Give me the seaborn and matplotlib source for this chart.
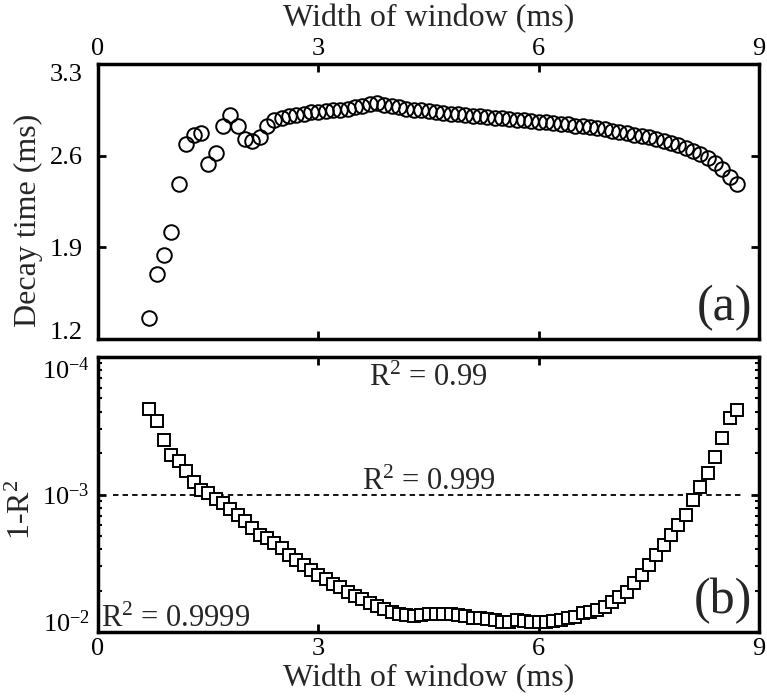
import numpy as np
import pandas as pd
import matplotlib
matplotlib.use("Agg")
import matplotlib.pyplot as plt
import seaborn as sns
from matplotlib.ticker import FixedLocator, FixedFormatter, NullFormatter

# ---------------- data ----------------
width_ms = [0.7, 0.8, 0.9, 1.0, 1.1, 1.2, 1.3, 1.4, 1.5, 1.6,
            1.7, 1.8, 1.9, 2.0, 2.1, 2.2, 2.3, 2.4, 2.5, 2.6,
            2.7, 2.8, 2.9, 3.0, 3.1, 3.2, 3.3, 3.4, 3.5, 3.6,
            3.7, 3.8, 3.9, 4.0, 4.1, 4.2, 4.3, 4.4, 4.5, 4.6,
            4.7, 4.8, 4.9, 5.0, 5.1, 5.2, 5.3, 5.4, 5.5, 5.6,
            5.7, 5.8, 5.9, 6.0, 6.1, 6.2, 6.3, 6.4, 6.5, 6.6,
            6.7, 6.8, 6.9, 7.0, 7.1, 7.2, 7.3, 7.4, 7.5, 7.6,
            7.7, 7.8, 7.9, 8.0, 8.1, 8.2, 8.3, 8.4, 8.5, 8.6, 8.7]

decay_time_ms = [1.36, 1.70, 1.84, 2.02, 2.38, 2.69, 2.76, 2.77, 2.54, 2.62,
                 2.83, 2.91, 2.83, 2.73, 2.71, 2.745, 2.83, 2.87, 2.885, 2.90,
                 2.91, 2.92, 2.93, 2.935, 2.94, 2.945, 2.95, 2.96, 2.97, 2.98,
                 2.995, 3.00, 2.99, 2.98, 2.97, 2.96, 2.95, 2.945, 2.94, 2.93,
                 2.925, 2.92, 2.915, 2.91, 2.905, 2.90, 2.895, 2.89, 2.885, 2.88,
                 2.875, 2.87, 2.865, 2.86, 2.855, 2.85, 2.845, 2.84, 2.83, 2.825,
                 2.82, 2.81, 2.80, 2.79, 2.78, 2.77, 2.76, 2.75, 2.74, 2.725,
                 2.71, 2.695, 2.68, 2.66, 2.635, 2.61, 2.58, 2.545, 2.50, 2.44, 2.38]

# 1 - R^2 as read on the labelled axis, in units of 1e-4
one_minus_r2_e4 = [2.40, 2.92, 4.02, 5.16, 5.68, 6.71, 8.07, 9.27, 9.77, 10.84,
                   11.48, 12.82, 14.09, 15.60, 17.62, 19.72, 20.84, 22.39, 24.55, 27.54,
                   29.92, 32.58, 35.48, 38.46, 41.40, 44.67, 47.32, 50.93, 54.70, 57.81,
                   61.24, 64.71, 68.39, 71.12, 74.30, 75.16, 75.86, 75.51, 74.47, 73.79,
                   73.45, 73.79, 74.99, 76.74, 78.52, 79.43, 80.35, 82.22, 84.14, 84.14,
                   82.22, 82.79, 84.14, 85.11, 84.14, 83.18, 81.85, 79.43, 77.27, 73.28,
                   71.12, 69.18, 65.46, 60.26, 55.34, 50.93, 44.26, 38.46, 32.58, 27.54,
                   23.28, 19.72, 16.67, 14.09, 10.96, 8.77, 7.01, 5.31, 3.90, 2.79, 2.43]

x_ticks = [0, 3, 6, 9]
decay_ticks = [1.2, 1.9, 2.6, 3.3]
decay_tick_labels = ["1.2", "1.9", "2.6", "3.3"]
r2_ticks = [1e-4, 1e-3, 1e-2]
r2_tick_labels = ["10$^{-4}$", "10$^{-3}$", "10$^{-2}$"]
r2_threshold = 1e-3

df_a = pd.DataFrame({"width": width_ms, "tau": decay_time_ms})
df_b = pd.DataFrame({"width": width_ms, "r": np.array(one_minus_r2_e4) * 1e-4})

# ---------------- style ----------------
sns.set_theme(style="white")
plt.rcParams["font.family"] = ["Liberation Serif", "DejaVu Serif"]
plt.rcParams["mathtext.fontset"] = "custom"
plt.rcParams["mathtext.rm"] = "Liberation Serif"
plt.rcParams["mathtext.it"] = "Liberation Serif:italic"
plt.rcParams["mathtext.default"] = "regular"

fig = plt.figure(figsize=(7.67, 7.0), dpi=100)
ax1 = fig.add_axes([0.1278, 0.5157, 0.8618, 0.3929])
ax2 = fig.add_axes([0.1278, 0.0971, 0.8618, 0.3929])

for ax in (ax1, ax2):
    for s in ax.spines.values():
        s.set_visible(True)
        s.set_linewidth(2.5)
        s.set_color("black")
    ax.set_facecolor("white")

# ---------------- panel (a) ----------------
sns.lineplot(data=df_a, x="width", y="tau", ax=ax1, linestyle="none",
             marker="o", markersize=10.5, markerfacecolor="none",
             markeredgecolor="black", markeredgewidth=1.4, color="black")
ax1.set_xlim(0, 9)
ax1.set_ylim(1.2, 3.3)
ax1.set_xticks(x_ticks)
ax1.set_yticks(decay_ticks)
ax1.set_yticklabels(decay_tick_labels)
ax1.tick_params(axis="both", which="major", direction="in", length=6, width=2,
                top=True, bottom=True, left=True, right=True,
                labeltop=True, labelbottom=False, labelsize=19, colors="black")
ax1.tick_params(axis="x", pad=3)
ax1.tick_params(axis="y", pad=11)
ax1.xaxis.set_label_position("top")
ax1.set_xlabel("Width of window (ms)", fontsize=23)
ax1.xaxis.label.set_va("center")
ax1.xaxis.set_label_coords(0.5, 1.166)
ax1.set_ylabel("Decay time (ms)", fontsize=23, va="center")
ax1.yaxis.set_label_coords(-0.105, 0.43)
ax1.text(0.99, 0.03, "(a)", transform=ax1.transAxes, ha="right", va="bottom",
         fontsize=36)

# pull the end labels inward like the reference
yt1 = ax1.yaxis.get_major_ticks()
yt1[0].label1.set_va("baseline")
yt1[-1].label1.set_va("top")

# ---------------- panel (b) ----------------
ax2.set_yscale("log")
ax2.set_xlim(0, 9)
ax2.set_ylim(1e-2, 1e-4)
ax2.plot([0.2, 8.8], [r2_threshold, r2_threshold], linestyle=(0, (3, 2.3)),
         color="black", linewidth=1.3, zorder=1)
sns.lineplot(data=df_b, x="width", y="r", ax=ax2, linestyle="none",
             marker="s", markersize=9, markerfacecolor="white",
             markeredgecolor="black", markeredgewidth=1.4, color="black",
             zorder=3)
ax2.set_xticks(x_ticks)
ax2.yaxis.set_major_locator(FixedLocator(r2_ticks))
ax2.yaxis.set_major_formatter(FixedFormatter(r2_tick_labels))
minor = [1e-3 / k for k in range(2, 10)] + [1e-2 / k for k in range(2, 10)]
ax2.yaxis.set_minor_locator(FixedLocator(minor))
ax2.yaxis.set_minor_formatter(NullFormatter())
ax2.tick_params(axis="both", which="major", direction="in", length=6, width=2,
                top=True, bottom=True, left=True, right=True,
                labeltop=False, labelbottom=True, labelsize=19, colors="black")
ax2.tick_params(axis="y", which="minor", direction="in", length=3, width=1.5,
                left=True, right=True, colors="black")
ax2.tick_params(axis="x", pad=4)
ax2.tick_params(axis="y", which="major", pad=6)
ax2.set_xlabel("Width of window (ms)", fontsize=23, va="center")
ax2.xaxis.set_label_coords(0.5, -0.17)
ax2.set_ylabel("1-R$^{2}$", fontsize=23, va="center")
ax2.yaxis.set_label_coords(-0.114, 0.445)

yt2 = ax2.yaxis.get_major_ticks()
yt2[0].label1.set_va("top")        # 10^-4 (top of inverted axis)
yt2[2].label1.set_va("baseline")   # 10^-2 (bottom)

ax2.text(0.5, 0.8945, "R$^{2}$ = 0.99", transform=ax2.transAxes,
         ha="center", va="baseline", fontsize=22)
ax2.text(0.5, 0.518, "R$^{2}$ = 0.999", transform=ax2.transAxes,
         ha="center", va="baseline", fontsize=22)
ax2.text(0.004, 0.019, "R$^{2}$ = 0.9999", transform=ax2.transAxes,
         ha="left", va="baseline", fontsize=22)
ax2.text(0.99, 0.03, "(b)", transform=ax2.transAxes, ha="right", va="bottom",
         fontsize=36)

fig.savefig("out.png", dpi=100)
